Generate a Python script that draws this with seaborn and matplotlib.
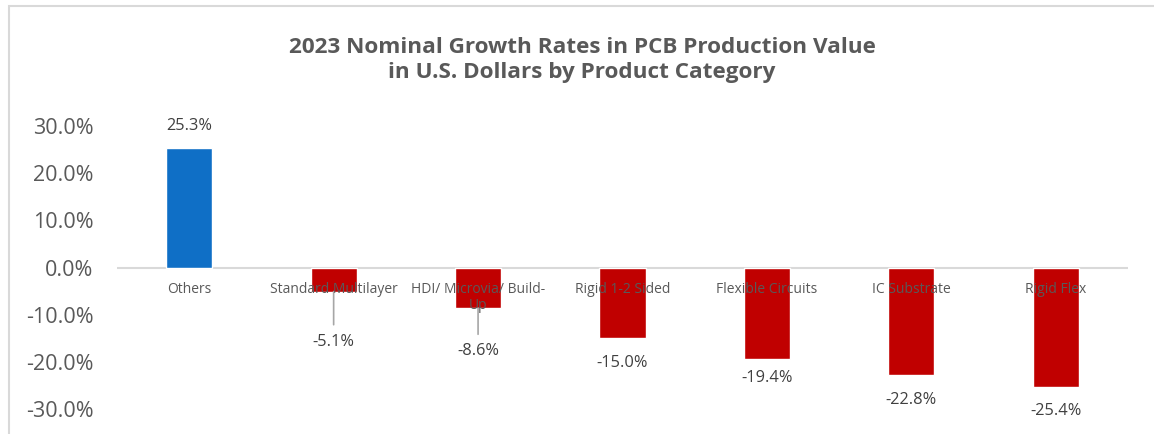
import matplotlib
matplotlib.use("Agg")
import matplotlib.pyplot as plt
import seaborn as sb
import pandas as pd
from matplotlib.patches import Rectangle
from matplotlib.ticker import PercentFormatter

# dados
categorias = ["Others", "Standard Multilayer", "HDI/ Microvia/ Build-\nUp", "Rigid 1-2 Sided",
              "Flexible Circuits", "IC Substrate", "Rigid Flex"]
crescimento = [0.253, -0.051, -0.086, -0.150, -0.194, -0.228, -0.254]
rotulos = ["25.3%", "-5.1%", "-8.6%", "-15.0%", "-19.4%", "-22.8%", "-25.4%"]
titulo = "2023 Nominal Growth Rates in PCB Production Value\nin U.S. Dollars by Product Category"

azul = "#0F6FC6"
vermelho = "#C00000"
cinza_txt = "#595959"

sb.set_style("white")
plt.rcParams['font.family'] = ['Open Sans', 'DejaVu Sans']
plt.rcParams['axes.unicode_minus'] = False

df = pd.DataFrame({"categoria": categorias, "valor": crescimento})
cores = {c: (azul if v >= 0 else vermelho) for c, v in zip(categorias, crescimento)}

fig = plt.figure(figsize=(11.54, 4.34), dpi=100)
ax = fig.add_axes([117 / 1154, 1 - 409 / 434, (1128 - 117) / 1154, (409 - 126) / 434])

sb.barplot(data=df, x="categoria", y="valor", hue="categoria", palette=cores,
           width=0.32, legend=False, ax=ax, saturation=1)

ax.set_ylim(-0.30, 0.30)
ax.set_xlim(-0.5, len(categorias) - 0.5)
ax.set_yticks([-0.3, -0.2, -0.1, 0.0, 0.1, 0.2, 0.3])
ax.yaxis.set_major_formatter(PercentFormatter(1.0, decimals=1))
ax.tick_params(axis='y', length=0, pad=17, labelsize=15.5, labelcolor=cinza_txt)
ax.set_xticks([])
ax.set_xlabel("")
ax.set_ylabel("")
sb.despine(ax=ax, left=True, bottom=True)
ax.axhline(0, color="#d9d9d9", lw=1.5, zorder=0)

# rotulos das categorias logo abaixo da linha do zero
for i, cat in enumerate(categorias):
    ax.annotate(cat, xy=(i, 0), xytext=(0, -10.5), textcoords="offset points",
                ha="center", va="top", fontsize=10, color=cinza_txt, linespacing=1.1, zorder=5)

# rotulos de dados (os dois primeiros negativos com linha de chamada, como no Excel)
deslocamentos = [16, -36, -31, -18, -14, -18, -17]
for i, (v, r) in enumerate(zip(crescimento, rotulos)):
    d = deslocamentos[i]
    if i in (1, 2):
        ax.annotate(r, xy=(i, v), xytext=(0, d), textcoords="offset points",
                    ha="center", va="center", fontsize=11.8, color="#404040",
                    arrowprops=dict(arrowstyle="-", color="#a6a6a6", lw=1.2, shrinkA=4, shrinkB=0))
    else:
        ax.annotate(r, xy=(i, v), xytext=(0, d), textcoords="offset points",
                    ha="center", va="center", fontsize=11.8, color="#404040")

fig.text(582 / 1154, 1 - 60 / 434, titulo, ha="center", va="center", fontsize=16.2,
         fontweight="bold", color=cinza_txt, linespacing=1.25)

# borda da area do grafico (so topo e esquerda aparecem)
fig.patches.append(Rectangle((9 / 1154, -0.2), 1.2, 1.2 - 6 / 434, transform=fig.transFigure,
                             fill=False, edgecolor="#d9d9d9", lw=1.5))

fig.savefig("out.png", dpi=100)
